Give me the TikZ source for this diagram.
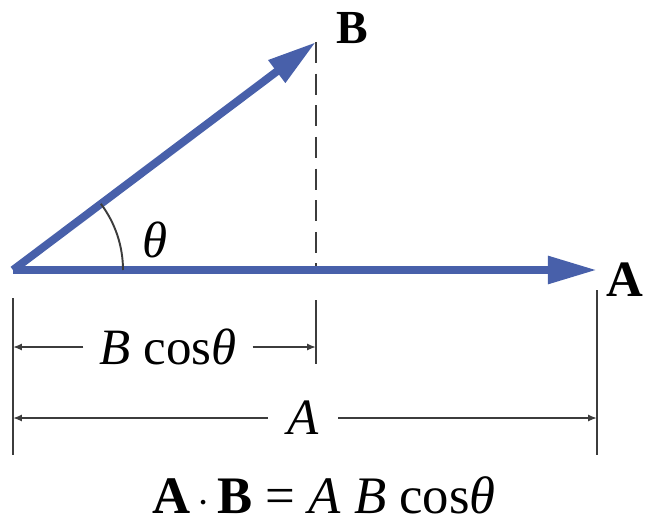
\documentclass[tikz,border=0pt]{standalone}
\usepackage{fontspec}
\setmainfont{Liberation Serif}
\usetikzlibrary{arrows.meta}
\definecolor{vecblue}{RGB}{72,96,170}
\definecolor{dimgray}{RGB}{60,60,60}

\begin{document}
\begin{tikzpicture}[x=0.02cm,y=0.02cm,>=latex,
  vec/.style={line width=4.5pt,vecblue,-{Triangle[length=28pt,width=15pt]}},
  dimline/.style={line width=1.1pt,dimgray},
  dimarrow/.style={line width=1.1pt,dimgray,-{Latex[length=5pt,width=4pt]}},
  big/.style={font=\fontsize{29}{32}\selectfont}]
  \useasboundingbox (0,0) rectangle (650,522);
  \coordinate (O) at (13,252);
  \coordinate (Atip) at (597,252);
  \coordinate (Btip) at (316,480);
  \coordinate (P) at (316,252);
  % extension lines
  \draw[dimline,dashed,dash pattern=on 12pt off 6pt] (Btip) -- (P);
  \draw[dimline] (13,224) -- (13,67);
  \draw[dimline] (316,222) -- (316,158);
  \draw[dimline] (597,232) -- (597,67);
  % vectors
  \draw[vec] (O) -- (Btip);
  \draw[vec] (O) -- (Atip);
  \draw[dimline] ([shift={(0:110)}]O) arc[start angle=0,end angle=37,radius=110];
  \node[big] (theta) at (155,282) {\textit{θ}};
  \node[big,font=\fontsize{27}{30}\selectfont\bfseries] (B) at (352,494) {B};
  \node[big,font=\fontsize{29}{32}\selectfont\bfseries] (A) at (625,242) {A};
  % dimensions
  \node[big,inner xsep=9pt] (Bc) at (168,175) {\textit{B} cos\textit{θ}};
  \coordinate (Bl) at (13,175);
  \coordinate (Br) at (316,175);
  \draw[dimarrow] (Bc) -- (Bl);
  \draw[dimarrow] (Bc) -- (Br);
  \node[big,inner xsep=11pt] (Al) at (303,104) {\textit{A}};
  \coordinate (Al0) at (13,104);
  \coordinate (Ar0) at (597,104);
  \draw[dimarrow] (Al) -- (Al0);
  \draw[dimarrow] (Al) -- (Ar0);
  \node[big,font=\fontsize{30}{32}\selectfont] (dot) at (324,27) {\textbf{A}$\,\cdot\,$\textbf{B} = \textit{A} \textit{B} cos\textit{θ}};
\end{tikzpicture}
\end{document}
